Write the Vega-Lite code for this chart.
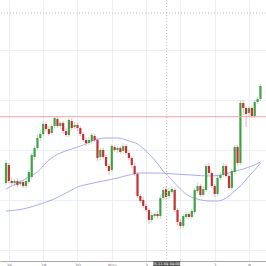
{
  "$schema": "https://vega.github.io/schema/vega-lite/v6.json",
  "width": 266,
  "height": 261,
  "autosize": "none",
  "padding": {"left": 0, "right": 0, "top": 0, "bottom": 5},
  "background": "white",
  "config": {"view": {"stroke": null}},
  "datasets": {
    "candles": [
      {"i":-1,"o":78,"h":101,"l":76,"c":98},
      {"i":0,"o":96,"h":98,"l":78,"c":80},
      {"i":1,"o":80,"h":83,"l":76,"c":78},
      {"i":2,"o":78,"h":82,"l":76,"c":80},
      {"i":3,"o":80,"h":83,"l":74,"c":76},
      {"i":4,"o":77,"h":81,"l":75,"c":79},
      {"i":5,"o":79,"h":81,"l":73,"c":75},
      {"i":6,"o":75,"h":82,"l":73,"c":80},
      {"i":7,"o":79,"h":91,"l":77,"c":89},
      {"i":8,"o":84,"h":108,"l":82,"c":106},
      {"i":9,"o":104,"h":116,"l":101,"c":113},
      {"i":10,"o":113,"h":126,"l":111,"c":123},
      {"i":11,"o":123,"h":131,"l":120,"c":127},
      {"i":12,"o":127,"h":140,"l":125,"c":137},
      {"i":13,"o":137,"h":139,"l":130,"c":132},
      {"i":14,"o":132,"h":135,"l":125,"c":127},
      {"i":15,"o":128,"h":137,"l":126,"c":135},
      {"i":16,"o":135,"h":145,"l":133,"c":143},
      {"i":17,"o":142,"h":144,"l":133,"c":135},
      {"i":18,"o":135,"h":140,"l":132,"c":138},
      {"i":19,"o":138,"h":140,"l":127,"c":130},
      {"i":20,"o":130,"h":133,"l":124,"c":126},
      {"i":21,"o":126,"h":143,"l":124,"c":141},
      {"i":22,"o":140,"h":142,"l":131,"c":133},
      {"i":23,"o":134,"h":139,"l":132,"c":136},
      {"i":24,"o":136,"h":138,"l":130,"c":133},
      {"i":25,"o":133,"h":135,"l":125,"c":127},
      {"i":26,"o":127,"h":129,"l":119,"c":121},
      {"i":27,"o":121,"h":123,"l":115,"c":118},
      {"i":28,"o":118,"h":124,"l":116,"c":121},
      {"i":29,"o":120,"h":128,"l":117,"c":126},
      {"i":30,"o":125,"h":127,"l":119,"c":121},
      {"i":31,"o":121,"h":123,"l":100,"c":103},
      {"i":32,"o":104,"h":113,"l":101,"c":111},
      {"i":33,"o":111,"h":113,"l":102,"c":104},
      {"i":34,"o":104,"h":106,"l":93,"c":95},
      {"i":35,"o":95,"h":97,"l":86,"c":90},
      {"i":36,"o":91,"h":117,"l":89,"c":115},
      {"i":37,"o":114,"h":116,"l":109,"c":111},
      {"i":38,"o":111,"h":115,"l":108,"c":113},
      {"i":39,"o":113,"h":115,"l":107,"c":109},
      {"i":40,"o":110,"h":118,"l":107,"c":115},
      {"i":41,"o":115,"h":117,"l":106,"c":108},
      {"i":42,"o":108,"h":110,"l":101,"c":103},
      {"i":43,"o":103,"h":105,"l":93,"c":96},
      {"i":44,"o":95,"h":98,"l":85,"c":87},
      {"i":45,"o":87,"h":89,"l":63,"c":65},
      {"i":46,"o":65,"h":67,"l":58,"c":60},
      {"i":47,"o":61,"h":64,"l":53,"c":55},
      {"i":48,"o":55,"h":57,"l":49,"c":51},
      {"i":49,"o":51,"h":53,"l":37,"c":41},
      {"i":50,"o":41,"h":49,"l":38,"c":46},
      {"i":51,"o":45,"h":49,"l":43,"c":47},
      {"i":52,"o":47,"h":50,"l":42,"c":45},
      {"i":53,"o":45,"h":66,"l":42,"c":63},
      {"i":54,"o":63,"h":74,"l":61,"c":71},
      {"i":55,"o":72,"h":75,"l":61,"c":64},
      {"i":56,"o":65,"h":73,"l":62,"c":70},
      {"i":57,"o":69,"h":75,"l":67,"c":72},
      {"i":58,"o":71,"h":73,"l":49,"c":51},
      {"i":59,"o":51,"h":53,"l":36,"c":39},
      {"i":60,"o":39,"h":42,"l":32,"c":35},
      {"i":61,"o":35,"h":47,"l":33,"c":45},
      {"i":62,"o":44,"h":49,"l":42,"c":47},
      {"i":63,"o":47,"h":49,"l":42,"c":44},
      {"i":64,"o":44,"h":52,"l":42,"c":50},
      {"i":65,"o":49,"h":73,"l":47,"c":71},
      {"i":66,"o":70,"h":78,"l":68,"c":75},
      {"i":67,"o":75,"h":77,"l":64,"c":66},
      {"i":68,"o":66,"h":75,"l":64,"c":72},
      {"i":69,"o":71,"h":97,"l":69,"c":95},
      {"i":70,"o":95,"h":98,"l":86,"c":88},
      {"i":71,"o":88,"h":90,"l":73,"c":75},
      {"i":72,"o":75,"h":77,"l":64,"c":67},
      {"i":73,"o":67,"h":86,"l":65,"c":83},
      {"i":74,"o":83,"h":89,"l":81,"c":86},
      {"i":75,"o":86,"h":98,"l":84,"c":95},
      {"i":76,"o":95,"h":97,"l":83,"c":85},
      {"i":77,"o":85,"h":87,"l":71,"c":73},
      {"i":78,"o":73,"h":92,"l":71,"c":90},
      {"i":79,"o":89,"h":116,"l":87,"c":114},
      {"i":80,"o":114,"h":116,"l":95,"c":98},
      {"i":81,"o":98,"h":161,"l":96,"c":158},
      {"i":82,"o":158,"h":161,"l":146,"c":153},
      {"i":83,"o":153,"h":155,"l":134,"c":147},
      {"i":84,"o":148,"h":155,"l":145,"c":153},
      {"i":85,"o":153,"h":155,"l":143,"c":145},
      {"i":86,"o":145,"h":161,"l":143,"c":159},
      {"i":87,"o":159,"h":164,"l":157,"c":162},
      {"i":88,"o":162,"h":177,"l":160,"c":175}
    ],
    "ma": [
      {"i":-1,"v":72,"s":"MA fast"},{"i":3,"v":78,"s":"MA fast"},{"i":7,"v":84,"s":"MA fast"},{"i":10,"v":89,"s":"MA fast"},
      {"i":14,"v":101,"s":"MA fast"},{"i":18,"v":108,"s":"MA fast"},{"i":22,"v":112,"s":"MA fast"},{"i":26,"v":116,"s":"MA fast"},
      {"i":30,"v":121,"s":"MA fast"},{"i":34,"v":123,"s":"MA fast"},{"i":38,"v":123,"s":"MA fast"},{"i":42,"v":120,"s":"MA fast"},
      {"i":45,"v":117,"s":"MA fast"},{"i":48,"v":110,"s":"MA fast"},{"i":51,"v":101,"s":"MA fast"},{"i":54,"v":90,"s":"MA fast"},
      {"i":57,"v":81,"s":"MA fast"},{"i":60,"v":72,"s":"MA fast"},{"i":63,"v":65,"s":"MA fast"},{"i":66,"v":62,"s":"MA fast"},
      {"i":70,"v":60,"s":"MA fast"},{"i":73,"v":60,"s":"MA fast"},{"i":76,"v":63,"s":"MA fast"},{"i":79,"v":70,"s":"MA fast"},
      {"i":82,"v":78,"s":"MA fast"},{"i":84,"v":85,"s":"MA fast"},{"i":86,"v":91,"s":"MA fast"},{"i":88,"v":98,"s":"MA fast"},
      {"i":-1,"v":50,"s":"MA slow"},{"i":5,"v":52,"s":"MA slow"},{"i":10,"v":56,"s":"MA slow"},{"i":15,"v":61,"s":"MA slow"},
      {"i":20,"v":68,"s":"MA slow"},{"i":24,"v":74,"s":"MA slow"},{"i":28,"v":77,"s":"MA slow"},{"i":33,"v":80,"s":"MA slow"},
      {"i":38,"v":83,"s":"MA slow"},{"i":42,"v":86,"s":"MA slow"},{"i":46,"v":88,"s":"MA slow"},{"i":52,"v":88,"s":"MA slow"},
      {"i":58,"v":87,"s":"MA slow"},{"i":64,"v":86,"s":"MA slow"},{"i":70,"v":85,"s":"MA slow"},{"i":74,"v":86,"s":"MA slow"},
      {"i":78,"v":89,"s":"MA slow"},{"i":82,"v":92,"s":"MA slow"},{"i":85,"v":95,"s":"MA slow"},{"i":88,"v":99,"s":"MA slow"}
    ]
  },
  "encoding": {
    "x": {
      "field": "i", "type": "quantitative",
      "scale": {"domain": [-1.35, 88.2], "nice": false, "zero": false},
      "axis": {
        "title": null,
        "values": [0, 12, 24, 36, 48, 60, 72, 84],
        "labelExpr": "datum.value==0?'26':datum.value==12?'28':datum.value==24?'30':datum.value==36?'Nov':datum.value==48?'3':datum.value==60?'':datum.value==72?'7':'9'",
        "grid": true, "gridColor": "#e9eff2", "gridWidth": 1,
        "domain": true, "domainColor": "#a8a8a8",
        "ticks": false, "labelFontSize": 4.5, "labelColor": "#777777",
        "labelPadding": 1, "labelFont": "DejaVu Sans", "labelFlush": false
      }
    }
  },
  "layer": [
    {
      "data": {"values": [{"g": 0}]},
      "mark": {"type": "rule", "opacity": 0},
      "encoding": {
        "y": {
          "datum": 0, "type": "quantitative",
          "scale": {"domain": [0, 261], "nice": false, "zero": false},
          "axis": {
            "title": null, "labels": false, "ticks": false, "domain": false,
            "grid": true, "gridColor": "#e9eff2", "gridWidth": 1,
            "values": [11.5, 24, 36.5, 49, 61.5, 74, 86.5, 99, 111.5, 124, 136.5, 149, 161.5, 174, 186.5, 199, 211.5, 224, 236.5, 249]
          }
        }
      }
    },
    {
      "data": {"name": "ma"},
      "mark": {"type": "line", "interpolate": "monotone", "strokeWidth": 1, "color": "#a9a9f5"},
      "encoding": {
        "y": {"field": "v", "type": "quantitative"},
        "detail": {"field": "s"}
      }
    },
    {
      "data": {"name": "candles"},
      "mark": {"type": "rule", "strokeWidth": 1, "opacity": 0.35},
      "encoding": {
        "y": {"field": "l", "type": "quantitative"},
        "y2": {"field": "h"},
        "color": {"condition": {"test": "datum.c > datum.o", "value": "#3fa346"}, "value": "#d0353a"}
      }
    },
    {
      "data": {"name": "candles"},
      "mark": {"type": "bar", "width": 2.2},
      "encoding": {
        "y": {"field": "o", "type": "quantitative"},
        "y2": {"field": "c"},
        "color": {"condition": {"test": "datum.c > datum.o", "value": "#3fa346"}, "value": "#c62f34"}
      }
    },
    {
      "data": {"values": [{"level": 144.3}]},
      "mark": {"type": "rule", "color": "#f2a3a3", "strokeWidth": 1},
      "encoding": {"y": {"field": "level", "type": "quantitative"}, "x": null}
    },
    {
      "data": {"values": [{"price": 248}]},
      "mark": {"type": "rule", "color": "#b9b9b9", "strokeWidth": 1, "strokeDash": [1, 2]},
      "encoding": {"y": {"field": "price", "type": "quantitative"}, "x": null}
    },
    {
      "data": {"values": [{"i": 55.2}]},
      "mark": {"type": "rule", "color": "#b9b9b9", "strokeWidth": 1, "strokeDash": [1, 2]},
      "encoding": {}
    },
    {
      "data": {"values": [{"i": 55.2, "label": "2025.11.04 04:00:00"}]},
      "mark": {"type": "rect", "width": 27, "height": 6, "color": "#555555", "clip": false},
      "encoding": {"y": {"datum": -3, "type": "quantitative"}}
    },
    {
      "data": {"values": [{"i": 55.2, "label": "2025.11.04 04:00:00"}]},
      "mark": {"type": "text", "fontSize": 3.6, "color": "#ffffff", "baseline": "middle", "align": "center", "font": "DejaVu Sans"},
      "encoding": {"y": {"datum": -3, "type": "quantitative"}, "text": {"field": "label"}}
    }
  ]
}
